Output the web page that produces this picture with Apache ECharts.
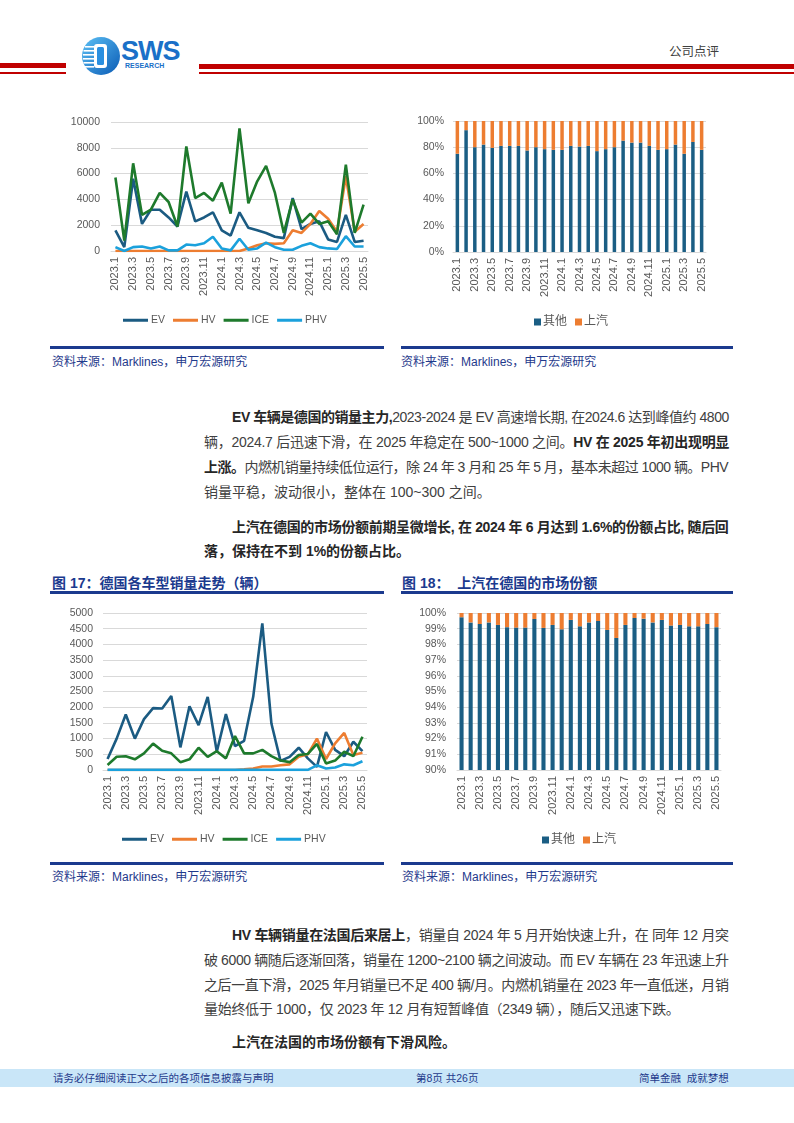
<!DOCTYPE html>
<html><head><meta charset="utf-8">
<script src="https://cdn.jsdelivr.net/npm/echarts@6/dist/echarts.min.js"></script>
<style>
body{margin:0;width:794px;height:1123px;position:relative;background:#fff;font-family:'Liberation Sans','Noto Sans CJK SC',sans-serif;overflow:hidden}
.abs{position:absolute}
.tl{position:absolute;height:20px;line-height:20px;font-size:14px;color:#404040;white-space:nowrap}
.tl b{color:#262626}
.src{position:absolute;font-size:12px;color:#1F3A8C;white-space:nowrap;line-height:16px}
.navy{position:absolute;height:2.5px;background:#1B3A8E}
.ttl{position:absolute;font-size:14px;font-weight:bold;color:#1B3A8E;white-space:nowrap;line-height:18px}
.foot{position:absolute;top:1070px;font-size:10.5px;color:#1F3A8C;white-space:nowrap;line-height:16px}
</style></head>
<body>
<!-- header -->
<div class="abs" style="left:0;top:63px;width:66px;height:5px;background:#C00000"></div>
<div class="abs" style="left:0;top:72px;width:66px;height:2px;background:#C00000"></div>
<div class="abs" style="left:199px;top:64px;width:595px;height:5px;background:#C00000"></div>
<div class="abs" style="left:199px;top:71.5px;width:595px;height:2px;background:#C00000"></div>
<svg class="abs" style="left:82px;top:37px" width="38" height="38" viewBox="0 0 38 38">
<defs><linearGradient id="lg" x1="0" y1="0" x2="1" y2="1"><stop offset="0" stop-color="#5CC0F5"/><stop offset="1" stop-color="#0A5BB5"/></linearGradient></defs>
<circle cx="19" cy="19" r="19" fill="url(#lg)"/>
<g fill="#fff"><rect x="3" y="9" width="9" height="1.6"/><rect x="1.5" y="13" width="10.5" height="1.6"/><rect x="1" y="17" width="11" height="1.6"/><rect x="1" y="21" width="11" height="1.6"/><rect x="1.5" y="25" width="10.5" height="1.6"/><rect x="3" y="29" width="9" height="1.6"/></g>
<rect x="12" y="7" width="13" height="24" rx="3" fill="#fff"/>
<rect x="15" y="10" width="7" height="18" rx="1.5" fill="#2A8FE0"/>
</svg>
<div class="abs" style="left:121px;top:38px;font-size:27px;font-weight:bold;color:#1A70C8;letter-spacing:-1px;line-height:27px;font-family:'Liberation Sans',sans-serif">SWS</div>
<div class="abs" style="left:125px;top:62px;font-size:7px;font-weight:bold;color:#1A70C8;line-height:8px;font-family:'Liberation Sans',sans-serif">RESEARCH</div>
<div class="abs" style="left:669px;top:44px;font-size:12.5px;color:#404040;line-height:16px">公司点评</div>

<!-- charts -->
<div id="cA" class="abs" style="left:50px;top:110px;width:335px;height:225px"></div>
<div id="cB" class="abs" style="left:400px;top:110px;width:335px;height:225px"></div>
<div id="cC" class="abs" style="left:50px;top:600px;width:335px;height:250px"></div>
<div id="cD" class="abs" style="left:400px;top:600px;width:335px;height:250px"></div>

<!-- sources top -->
<div class="navy" style="left:50px;top:346px;width:334px"></div>
<div class="navy" style="left:401px;top:346px;width:332px"></div>
<div class="src" style="left:52px;top:354px">资料来源：Marklines，申万宏源研究</div>
<div class="src" style="left:401px;top:354px">资料来源：Marklines，申万宏源研究</div>

<!-- paragraph 1,2 -->
<div class="tl jl" style="left:232px;top:407px" data-w="497"><b>EV 车辆是德国的销量主力,</b>2023-2024 是 EV 高速增长期, 在2024.6 达到峰值约 4800</div>
<div class="tl jl" style="left:204px;top:432px" data-w="525">辆，2024.7 后迅速下滑，在 2025 年稳定在 500~1000 之间。<b>HV 在 2025 年初出现明显</b></div>
<div class="tl jl" style="left:204px;top:457px" data-w="525"><b>上涨。</b>内燃机销量持续低位运行，除 24 年 3 月和 25 年 5 月，基本未超过 1000 辆。PHV</div>
<div class="tl" style="left:204px;top:482px">销量平稳，波动很小，整体在 100~300 之间。</div>
<div class="tl jl" style="left:232px;top:517px" data-w="497"><b>上汽在德国的市场份额前期呈微增长, 在 2024 年 6 月达到 1.6%的份额占比, 随后回</b></div>
<div class="tl" style="left:204px;top:541px"><b>落，保持在不到 1%的份额占比。</b></div>

<!-- titles -->
<div class="ttl" style="left:52px;top:574px">图 17：德国各车型销量走势（辆）</div>
<div class="ttl" style="left:402px;top:574px">图 18：&nbsp;&nbsp;上汽在德国的市场份额</div>
<div class="navy" style="left:50px;top:591px;width:334px"></div>
<div class="navy" style="left:401px;top:591px;width:332px"></div>

<!-- sources bottom -->
<div class="navy" style="left:50px;top:862px;width:334px"></div>
<div class="navy" style="left:401px;top:862px;width:332px"></div>
<div class="src" style="left:52px;top:869px">资料来源：Marklines，申万宏源研究</div>
<div class="src" style="left:402px;top:869px">资料来源：Marklines，申万宏源研究</div>

<!-- paragraph 3,4 -->
<div class="tl jl" style="left:232px;top:925px" data-w="497"><b>HV 车辆销量在法国后来居上</b>，销量自 2024 年 5 月开始快速上升，在 同年 12 月突</div>
<div class="tl jl" style="left:204px;top:950px" data-w="525">破 6000 辆随后逐渐回落，销量在 1200~2100 辆之间波动。而 EV 车辆在 23 年迅速上升</div>
<div class="tl jl" style="left:204px;top:975px" data-w="525">之后一直下滑，2025 年月销量已不足 400 辆/月。内燃机销量在 2023 年一直低迷，月销</div>
<div class="tl" style="left:204px;top:999px;letter-spacing:-0.3px">量始终低于 1000，仅 2023 年 12 月有短暂峰值（2349 辆），随后又迅速下跌。</div>
<div class="tl" style="left:232px;top:1032px"><b>上汽在法国的市场份额有下滑风险。</b></div>

<!-- footer -->
<div class="abs" style="left:0;top:1069px;width:794px;height:18px;background:#C9E6F8"></div>
<div class="foot" style="left:53px">请务必仔细阅读正文之后的各项信息披露与声明</div>
<div class="foot" style="left:416px">第8页 共26页</div>
<div class="foot" style="left:639px">简单金融&nbsp;&nbsp;成就梦想</div>

<script>
// ---------- data ----------
const months = ['2023.1','2023.2','2023.3','2023.4','2023.5','2023.6','2023.7','2023.8','2023.9','2023.10','2023.11','2023.12',
  '2024.1','2024.2','2024.3','2024.4','2024.5','2024.6','2024.7','2024.8','2024.9','2024.10','2024.11','2024.12',
  '2025.1','2025.2','2025.3','2025.4','2025.5'];
const lineNames = ['EV','HV','ICE','PHV'];
const barNames = ['其他','上汽'];

// top-left (France) monthly sales
const frEV  = [1600,300,5600,2100,3200,3200,2600,1900,4600,2300,2600,3000,1600,1200,3000,1800,1600,1400,1100,1000,4100,1700,2100,2300,900,700,2800,700,800];
const frHV  = [0,0,0,0,0,0,0,0,0,0,0,0,0,0,0,200,450,600,550,600,1600,1400,2100,3100,2500,1500,5800,1500,2100];
const frICE = [5700,800,6800,2800,3200,4500,3800,1900,8100,4100,4500,3900,5300,2900,9500,3700,5400,6600,4500,1400,4000,2200,2900,2100,2300,1300,6700,1400,3600];
const frPHV = [300,0,300,350,200,350,50,50,500,450,600,1100,200,50,950,100,200,650,300,100,100,400,600,300,200,150,1150,350,350];
const frYTicks = {min:0, max:10000, interval:2000};

// top-right share (%)
const frOther = [75,93,80,82,79.5,81,81,81,77.5,80,78.5,78,78,81,80.5,81,77,78.5,80,85,83.5,83.5,81,78,78.5,82,75,84,78];
const frSAIC  = [25,7,20,18,20.5,19,19,19,22.5,20,21.5,22,22,19,19.5,19,23,21.5,20,15,16.5,16.5,19,22,21.5,18,25,16,22];
const frShareTicks = {min:0, max:100, interval:20};

// bottom-left (Germany) monthly sales
const deEV  = [350,1000,1770,1000,1620,1970,1960,2360,720,2030,1430,2330,580,1780,760,930,2330,4670,1480,290,420,710,370,100,1210,640,440,900,600];
const deHV  = [0,0,0,0,0,0,0,0,0,0,0,0,0,0,0,20,50,110,110,150,180,420,500,1000,350,850,1180,480,550];
const deICE = [160,420,440,340,530,840,610,530,250,340,710,420,600,370,1080,530,530,640,440,300,250,480,510,830,210,300,580,440,1060];
const dePHV = [5,5,5,5,5,5,5,5,5,5,5,5,5,5,5,5,5,5,5,5,5,5,5,150,50,80,180,150,280];
const deYTicks = {min:0, max:5000, interval:500};

// bottom-right share (%)
const deOther = [99.73,99.4,99.3,99.4,99.24,99.1,99.07,99.07,99.62,99.05,99.24,98.96,99.56,99.15,99.4,99.49,98.92,98.41,99.24,99.68,99.64,99.4,99.56,99.2,99.24,99.15,99.15,99.3,99.1];
const deSAIC  = [0.27,0.6,0.7,0.6,0.76,0.9,0.93,0.93,0.38,0.95,0.76,1.04,0.44,0.85,0.6,0.51,1.08,1.59,0.76,0.32,0.36,0.6,0.44,0.8,0.76,0.85,0.85,0.7,0.9];
const deShareTicks = {min:90, max:100, interval:1};

// ---------- styling ----------
const FONT = "'Liberation Sans','Noto Sans CJK SC',sans-serif";
const lineColors = ['#1B5B82','#ED7D31','#1E7A2C','#1BA1DC'];
const barColors = ['#1B5E84','#ED7D31'];
const LBL = '#595959', GRID = '#D9D9D9';

function xAxisCfg(){
  return {type:'category',data:months,boundaryGap:true,
    axisLine:{lineStyle:{color:GRID,width:1}},axisTick:{show:false},
    axisLabel:{rotate:90,interval:1,fontSize:11,color:LBL,margin:6,fontFamily:FONT}};
}
function yAxisCfg(t,margin,pct){
  return {type:'value',min:t.min,max:t.max,interval:t.interval,
    axisLine:{show:false},axisTick:{show:false},
    splitLine:{lineStyle:{color:GRID,width:1}},
    axisLabel:{fontSize:10.5,color:LBL,margin:margin,fontFamily:FONT,formatter:pct?(v=>v+'%'):(v=>String(v))}};
}
function lineChart(id,data,ticks,grid,legendLeft,legendTop,ymargin){
  const c = echarts.init(document.getElementById(id),null,{renderer:'canvas'});
  c.setOption({
    animation:false,textStyle:{fontFamily:FONT},
    grid:grid,
    legend:{left:legendLeft,top:legendTop,icon:'rect',itemWidth:25,itemHeight:3,itemGap:8,
      textStyle:{fontSize:10.5,color:LBL,fontFamily:FONT,padding:[0,0,0,-2]},data:lineNames},
    xAxis:xAxisCfg(),
    yAxis:yAxisCfg(ticks,ymargin,false),
    series:lineNames.map((n,i)=>({name:n,type:'line',data:data[i],symbol:'none',
      lineStyle:{width:2.6,color:lineColors[i]},itemStyle:{color:lineColors[i]}}))
  });
}
function barChart(id,data,ticks,grid,legendLeft,legendTop,ymargin,bw){
  const c = echarts.init(document.getElementById(id),null,{renderer:'canvas'});
  c.setOption({
    animation:false,textStyle:{fontFamily:FONT},
    grid:grid,
    legend:{left:legendLeft,top:legendTop,icon:'rect',itemWidth:7,itemHeight:7,itemGap:8,
      textStyle:{fontSize:12,color:LBL,fontFamily:FONT,padding:[0,0,0,-3]},data:barNames},
    xAxis:xAxisCfg(),
    yAxis:yAxisCfg(ticks,ymargin,true),
    series:barNames.map((n,i)=>({name:n,type:'bar',stack:'s',data:data[i],barWidth:bw,
      itemStyle:{color:barColors[i]}}))
  });
}
lineChart('cA',[frEV,frHV,frICE,frPHV],frYTicks,{left:61,right:17,top:12,bottom:84},68,200,11);
barChart('cB',[frOther,frSAIC],frShareTicks,{left:53,right:29,top:11,bottom:83},129,201,9,'40%');
lineChart('cC',[deEV,deHV,deICE,dePHV],deYTicks,{left:53,right:18,top:13,bottom:80},67,229,10);
barChart('cD',[deOther,deSAIC],deShareTicks,{left:57,right:14,top:13,bottom:80},137,229,11,'45%');

// justify single text lines
document.querySelectorAll('.jl').forEach(el=>{
  const target = +el.dataset.w;
  el.style.letterSpacing='0px';
  const w = el.scrollWidth;
  const n = el.textContent.length;
  if(n>1){ el.style.letterSpacing = ((target-w)/(n-1))+'px'; }
});
</script>
</body></html>
